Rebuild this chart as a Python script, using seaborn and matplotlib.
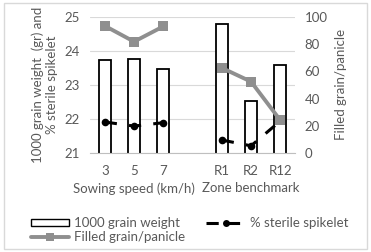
import matplotlib.pyplot as plt
import matplotlib.patches as mpatches
from matplotlib.lines import Line2D
import numpy as np
import pandas as pd
import seaborn as sns

# Data (gap category between the two groups)
categories = ['3', '5', '7', '', 'R1', 'R2', 'R12']
grain_weight = [23.74, 23.76, 23.47, np.nan, 24.80, 22.53, 23.59]
sterile_spikelet = [21.91, 21.79, 21.89, np.nan, 21.38, 21.21, 21.94]
filled_grain = [93.4, 81.8, 93.0, np.nan, 62.5, 52.4, 24.0]
group_labels = ['Sowing speed (km/h)', 'Zone benchmark']

sns.set_style('white')
plt.rcParams['font.family'] = ['Lato', 'DejaVu Sans']
txt = '#595959'
fs = 9.5

df = pd.DataFrame({'cat': categories, 'weight': grain_weight})
pos = np.arange(len(categories))

fig = plt.figure(figsize=(3.71, 2.52), dpi=100)
fig.subplots_adjust(left=0.243, right=0.795, top=0.933, bottom=0.393)
ax = fig.add_subplot(111)

sns.barplot(data=df.dropna(), x='cat', y='weight', order=categories, ax=ax,
            color='white', edgecolor='black', linewidth=1.3, width=0.42, zorder=2)
ax.set_ylim(21, 25)
ax.set_yticks([21, 22, 23, 24, 25])
ax.grid(axis='y', color='#d9d9d9', linewidth=0.8, zorder=0)
ax.set_axisbelow(True)

ax2 = ax.twinx()
ax2.set_ylim(0, 100)
ax2.set_yticks([0, 20, 40, 60, 80, 100])

# lines drawn per group so they break at the empty category
for idx in ([0, 1, 2], [4, 5, 6]):
    g = pd.DataFrame({'x': pos[idx], 'ster': np.array(sterile_spikelet)[idx],
                      'fill': np.array(filled_grain)[idx]})
    sns.lineplot(data=g, x='x', y='fill', ax=ax2, color='#8f8f8f', linewidth=2.8,
                 marker='s', markersize=6.5, markeredgewidth=0, zorder=3)
    mk = [0, 1, 2] if idx[0] == 0 else [0, 1]
    sns.lineplot(data=g, x='x', y='ster', ax=ax, color='black', linewidth=2.2,
                 marker='o', markersize=5.5, markevery=mk,
                 markeredgewidth=0, zorder=4)
for ln in ax.lines:
    ln.set_linestyle((0, (4, 4)))

ax.set_xlim(-0.5, 6.5)
ax.set_xticks(pos)
ax.set_xticklabels(categories)
ax.set_xlabel('')
ax.set_ylabel('1000 grain weight  (gr) and\n% sterile spikelet', color=txt, fontsize=fs)
ax2.set_ylabel('Filled grain/panicle', color=txt, fontsize=fs)
ax.yaxis.set_label_coords(-0.155, 0.5)
ax2.yaxis.set_label_coords(1.195, 0.5)
for a in (ax, ax2):
    a.tick_params(colors=txt, labelsize=fs, length=0)
    for s in a.spines.values():
        s.set_visible(False)
ax.tick_params(axis='y', pad=7.5)
ax2.tick_params(axis='y', pad=7)
ax.spines['bottom'].set_visible(True)
ax.spines['bottom'].set_color('#bfbfbf')
ax.tick_params(axis='x', pad=9)

for lab, center in zip(group_labels, [1, 5]):
    ax.text(center, -0.26, lab, transform=ax.get_xaxis_transform(), ha='center',
            va='center', color=txt, fontsize=fs)

handles = [mpatches.Patch(facecolor='white', edgecolor='black', linewidth=1.0),
           Line2D([], [], color='#8f8f8f', linewidth=2.8, marker='s', markersize=6,
                  markeredgewidth=0),
           Line2D([], [], color='black', linewidth=2.2, linestyle=(0, (4, 3)),
                  marker='o', markersize=5, markeredgewidth=0)]
labels = ['1000 grain weight', 'Filled grain/panicle', '% sterile spikelet']
leg = fig.legend(handles, labels, loc='upper left', bbox_to_anchor=(0.065, 0.165),
                 ncol=2, frameon=False, fontsize=fs, handlelength=2.9,
                 handleheight=0.4, labelspacing=0.15, columnspacing=1.6,
                 handletextpad=0.4, borderpad=0)
for t in leg.get_texts():
    t.set_color(txt)

fig.patches.append(mpatches.Rectangle((0.012, 0.012), 0.976, 0.976, transform=fig.transFigure,
                                      fill=False, edgecolor='#d9d9d9', linewidth=1))
fig.savefig('out.png', dpi=100)
